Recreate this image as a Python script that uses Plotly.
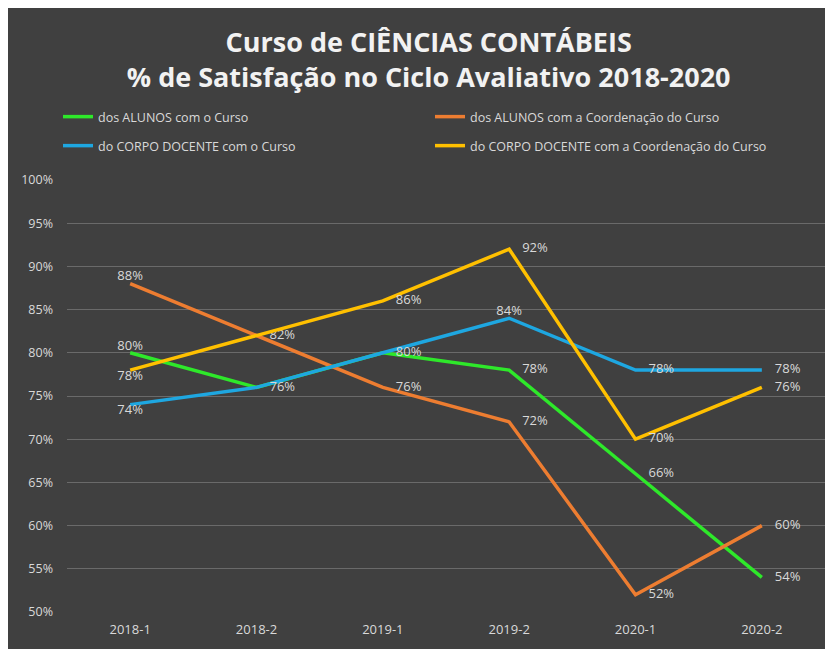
import plotly.graph_objects as go

categories = ["2018-1", "2018-2", "2019-1", "2019-2", "2020-1", "2020-2"]
alunos_curso = [80, 76, 80, 78, 66, 54]
alunos_coord = [88, 82, 76, 72, 52, 60]
docente_curso = [74, 76, 80, 84, 78, 78]
docente_coord = [78, 82, 86, 92, 70, 76]

series = [
    ("dos ALUNOS com o Curso", alunos_curso, "#2ee82a", "legend",
     ["top center", "", "", "middle right", "middle right", "middle right"]),
    ("dos ALUNOS com a Coordenação do Curso", alunos_coord, "#ed7d31", "legend",
     ["top center", "middle right", "middle right", "middle right", "middle right", "middle right"]),
    ("do CORPO DOCENTE com o Curso", docente_curso, "#1ea7e1", "legend2",
     ["bottom center", "middle right", "middle right", "top center", "middle right", "middle right"]),
    ("do CORPO DOCENTE com a Coordenação do Curso", docente_coord, "#ffc000", "legend2",
     ["bottom center", "", "middle right", "middle right", "middle right", "middle right"]),
]

PAD = "\u2002\u2002"
FONT = "Open Sans"

fig = go.Figure()
for name, vals, color, leg, pos in series:
    texts = []
    for v, p in zip(vals, pos):
        if not p:
            texts.append("")
        elif p == "middle right":
            texts.append(f"{PAD}{v}%")
        else:
            texts.append(f"{v}%")
    positions = [p if p else "middle right" for p in pos]
    fig.add_trace(go.Scatter(
        x=categories, y=vals, name=name, mode="lines+text",
        line=dict(color=color, width=3.5), legend=leg,
        text=texts, textposition=positions,
        textfont=dict(color="#d9d9d9", size=13, family=FONT),
        cliponaxis=False,
    ))

legend_common = dict(
    orientation="h", x=0.06, xanchor="left", xref="container",
    yanchor="middle", yref="container",
    entrywidth=327, entrywidthmode="pixels",
    font=dict(family=FONT, size=12.5, color="#d9d9d9"),
    bgcolor="rgba(0,0,0,0)",
)

fig.update_layout(
    width=833, height=649,
    paper_bgcolor="#404040", plot_bgcolor="#404040",
    margin=dict(l=59, r=16, t=172, b=45, autoexpand=False),
    title=dict(
        text="<b>Curso de CIÊNCIAS CONTÁBEIS<br>% de Satisfação no Ciclo Avaliativo 2018-2020</b>",
        x=0.505, xanchor="center", y=1 - 44 / 649, yanchor="middle",
        font=dict(family=FONT, size=27, color="#f2f2f2"),
    ),
    legend=dict(legend_common, y=1 - 109 / 649),
    legend2=dict(legend_common, y=1 - 138 / 649),
    xaxis=dict(
        type="category", range=[-0.5, 5.5], showgrid=False, zeroline=False, showline=False,
        tickfont=dict(family=FONT, size=13, color="#d9d9d9"),
        ticks="", ticklabelstandoff=8,
    ),
    yaxis=dict(
        range=[50, 100], dtick=5, ticksuffix="%", showgrid=True,
        gridcolor="#6a6a6a", gridwidth=1, zeroline=False,
        tickfont=dict(family=FONT, size=12.5, color="#d9d9d9"),
        ticks="", ticklabelstandoff=13,
    ),
)

fig.write_html("out.html")
